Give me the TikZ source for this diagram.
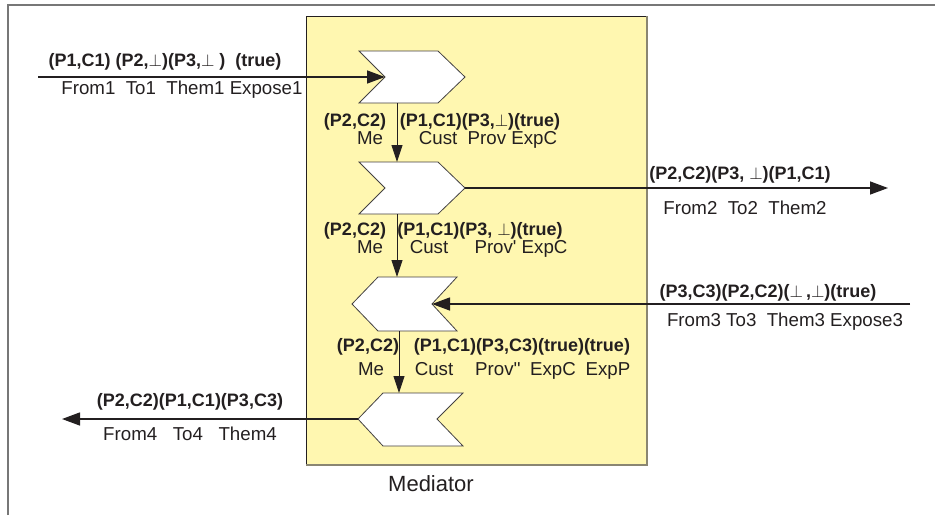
\documentclass[tikz,border=0pt]{standalone}
\usepackage{fontspec}
\setmainfont{Liberation Sans}
\usetikzlibrary{arrows.meta}
\definecolor{framegray}{HTML}{777777}
\definecolor{medfill}{HTML}{FFF7B0}
\definecolor{medshade}{HTML}{8A8672}
\definecolor{ink}{HTML}{231F20}
\newcommand{\pt}{\ensuremath{\perp}}
\tikzset{
  chev/.style={draw=ink!85, fill=white, line width=0.8pt, line join=miter},
  flow/.style={draw=ink, line width=1.4pt, -{Triangle[length=18pt,width=13pt]}},
  vflow/.style={draw=ink, line width=0.9pt, -{Triangle[length=17pt,width=11pt]}},
  bl/.style={font=\fontsize{18}{20}\selectfont\bfseries, text=ink, inner sep=0pt, anchor=base},
  rl/.style={font=\fontsize{18.7}{20}\selectfont, text=ink, inner sep=0pt, anchor=base},
}
\begin{document}
\begin{tikzpicture}[x=1pt, y=-1pt]
\path[use as bounding box] (0,0) rectangle (935,515);
% outer frame (top and left edges only)
\draw[framegray, line width=2pt] (8,515) -- (8,5) -- (935,5);
% mediator box
\fill[medfill] (306,16) rectangle (647,465);
\draw[ink, line width=0.9pt] (306,465) -- (306,16) -- (647,16);
\draw[medshade, line width=1.1pt] (647,16) -- (647,465) -- (306,465);
\node[rl, font=\fontsize{22}{24}\selectfont] (medlabel) at (431,491) {Mediator};

% the four chevrons
\draw[chev] (359,51) -- (438,51) -- (465,77) -- (438,103) -- (359,103) -- (385,77) -- cycle;
\draw[chev] (359,162) -- (438,162) -- (465,188) -- (438,214) -- (359,214) -- (385,188) -- cycle;
\draw[chev] (378,277) -- (457,277) -- (432,304) -- (457,331) -- (378,331) -- (352,304) -- cycle;
\draw[chev] (383,393) -- (463,393) -- (437,419) -- (463,446) -- (383,446) -- (358,419) -- cycle;

% connection points on the chevrons
\coordinate (c1notch) at (385,77);
\coordinate (c1bot) at (397,103);
\coordinate (c2top) at (397,162);
\coordinate (c2tip) at (465,188);
\coordinate (c2bot) at (397,214);
\coordinate (c3top) at (397,277);
\coordinate (c3notch) at (432,304);
\coordinate (c3bot) at (399,331);
\coordinate (c4top) at (399,393);
\coordinate (c4tip) at (358,419);
% free ends of the external ports
\coordinate (p1) at (38,77);
\coordinate (p2) at (888,188);
\coordinate (p3) at (910,304);
\coordinate (p4) at (62,419);

% connectors
\draw[flow] (p1) -- (c1notch);
\draw[vflow] (c1bot) -- (c2top);
\draw[flow] (c2tip) -- (p2);
\draw[vflow] (c2bot) -- (c3top);
\draw[flow] (p3) -- (c3notch);
\draw[vflow] (c3bot) -- (c4top);
\draw[flow] (c4tip) -- (p4);

% port 1
\node[bl] (l1a) at (165,66) {(P1,C1) (P2,\pt)(P3,\pt\ )~ (true)};
\node[rl] (l1b) at (182,94) {From1~ To1~ Them1 Expose1};
% between chevrons 1 and 2
\node[bl] (m1a) at (355,126) {(P2,C2)};
\node[bl] (m1b) at (480,126) {(P1,C1)(P3,\pt)(true)};
\node[rl] (m1c) at (370,144) {Me};
\node[rl] (m1d) at (488,144) {Cust~ Prov ExpC};
% port 2
\node[bl] (l2a) at (740,179) {(P2,C2)(P3, \pt)(P1,C1)};
\node[rl] (l2b) at (745,214) {From2~ To2~ Them2};
% between chevrons 2 and 3
\node[bl] (m2a) at (355,235) {(P2,C2)};
\node[bl] (m2b) at (480,235) {(P1,C1)(P3, \pt)(true)};
\node[rl] (m2c) at (370,253) {Me};
\node[rl] (m2d) at (429,253) {Cust};
\node[rl] (m2e) at (521,253) {Prov\textquotesingle\ ExpC};
% port 3
\node[bl] (l3a) at (768,297) {(P3,C3)(P2,C2)(\pt\,,\pt)(true)};
\node[rl] (l3b) at (785,326) {From3 To3~ Them3 Expose3};
% between chevrons 3 and 4
\node[bl] (m3a) at (368,351) {(P2,C2)};
\node[bl] (m3b) at (522,351) {(P1,C1)(P3,C3)(true)(true)};
\node[rl] (m3c) at (371,375) {Me};
\node[rl] (m3d) at (434,375) {Cust};
\node[rl] (m3e) at (498,375) {Prov\textquotesingle\textquotesingle};
\node[rl] (m3f) at (553,375) {ExpC};
\node[rl] (m3g) at (608,375) {ExpP};
% port 4
\node[bl] (l4a) at (190,406) {(P2,C2)(P1,C1)(P3,C3)};
\node[rl] (l4b) at (190,440) {From4~~ To4~~ Them4};
\end{tikzpicture}
\end{document}
